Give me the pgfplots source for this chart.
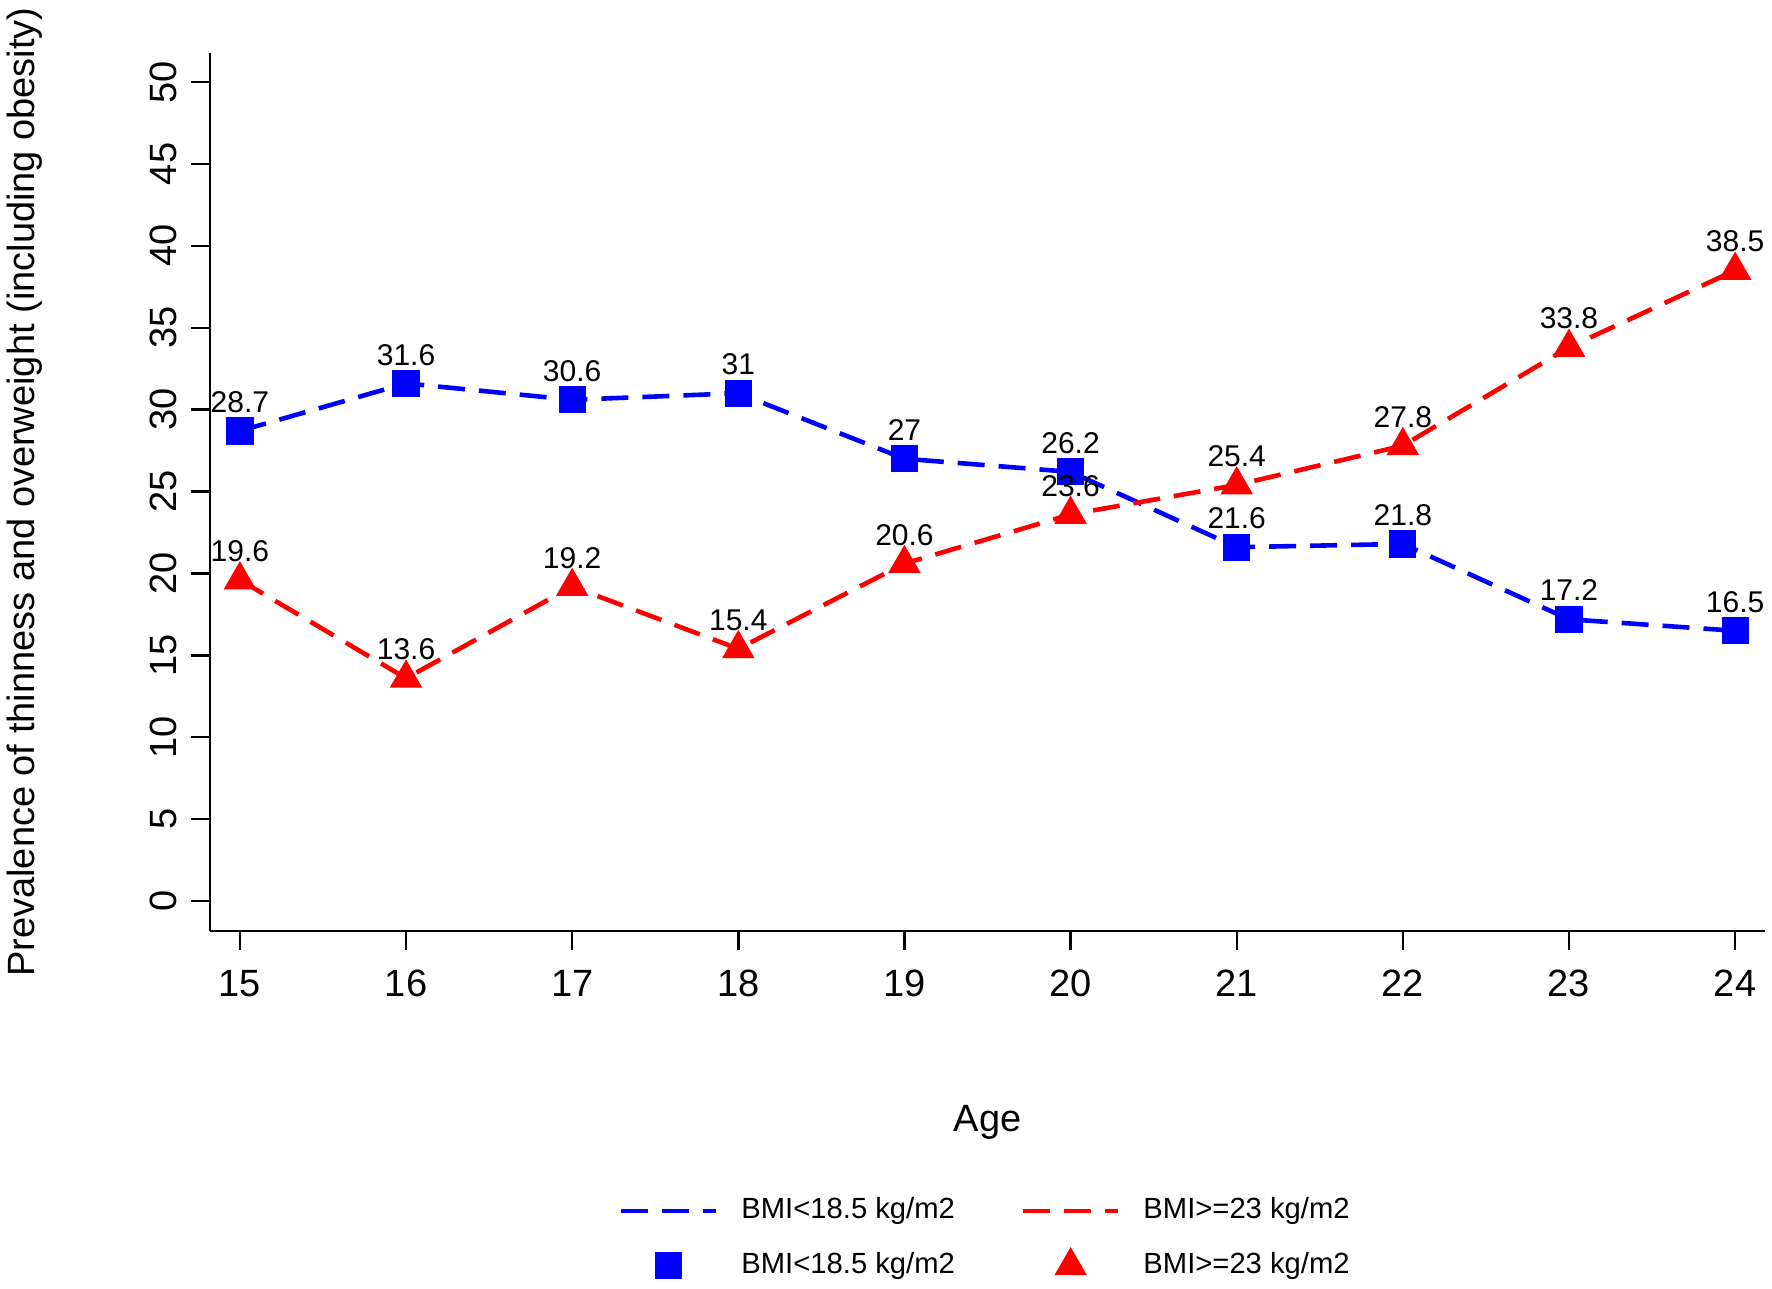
\documentclass[border=0pt]{standalone}
\usepackage{fontspec}
\setmainfont{Liberation Sans}
\usepackage{pgfplots}
\pgfplotsset{compat=1.18}
\pgfplotsset{
  lineleg/.style={legend image code/.code={\draw[##1] (0pt,0pt) -- (23.75pt,0pt);}},
  markleg/.style={legend image code/.code={\draw[##1] plot coordinates {(11.875pt,0pt)};}},
}
\pgfplotstableread{
x y
15 28.7
16 31.6
17 30.6
18 31
19 27
20 26.2
21 21.6
22 21.8
23 17.2
24 16.5
}\thin
\pgfplotstableread{
x y
15 19.6
16 13.6
17 19.2
18 15.4
19 20.6
20 23.6
21 25.4
22 27.8
23 33.8
24 38.5
}\over
\begin{document}
\begin{tikzpicture}
\path[use as bounding box] (-52.5pt,-89.25pt) rectangle (390.5pt,232.75pt);
\begin{axis}[
  at={(0pt,0pt)}, anchor=south west,
  scale only axis, width=388.75pt, height=219.5pt,
  xmin=14.82, xmax=24.18, ymin=-1.83, ymax=51.77,
  axis x line*=bottom, axis y line*=left,
  axis line style={line width=0.6pt, -},
  xtick={15,...,24}, ytick={0,5,...,50},
  tick align=outside, major tick length=4.75pt,
  tick style={line width=0.6pt, black},
  /pgf/number format/assume math mode=true,
  ticklabel style={font=\fontsize{9.5}{11}\selectfont},
  xticklabel style={yshift=-1.5pt},
  yticklabel style={rotate=90, anchor=south},
  xlabel={Age},
  ylabel={Prevalence of thinness and overweight (including obesity)},
  xlabel style={at={(axis description cs:0.5,-0.2283)}, anchor=base, font=\fontsize{9.5}{11}\selectfont},
  ylabel style={at={(axis description cs:-0.119,0.5)}, anchor=center, font=\fontsize{9.5}{11}\selectfont},
  legend columns=2,
  legend cell align=left,
  legend style={at={(axis description cs:0.2624,-0.3501)}, anchor=west, draw=none, fill=none, inner sep=0pt,
    font=\fontsize{7.3}{8.8}\selectfont, column sep=5.75pt, row sep=6pt,
    /tikz/every even column/.append style={column sep=16.5pt}, nodes={inner sep=0pt}},
  clip=false,
]
\addplot[blue, line width=1.15pt, dash pattern=on 6.75pt off 3.5pt, mark=none, lineleg] table[x=x,y=y] {\thin};
\addlegendentry{BMI<18.5 kg/m2}
\addplot[red, line width=1.15pt, dash pattern=on 6.75pt off 3.5pt, mark=none, lineleg] table[x=x,y=y] {\over};
\addlegendentry{BMI>=23 kg/m2}
\addplot[blue, only marks, mark=square*, mark size=3.2pt, mark options={solid, fill=blue}, markleg] table[x=x,y=y] {\thin};
\addlegendentry{BMI<18.5 kg/m2}
\addplot[red, only marks, mark=triangle*, mark size=4.3pt, mark options={solid, fill=red}, markleg] table[x=x,y=y] {\over};
\addlegendentry{BMI>=23 kg/m2}
\addplot[draw=none, mark=none, forget plot, point meta=explicit symbolic, nodes near coords,
  nodes near coords style={font=\fontsize{7.5}{9}\selectfont, anchor=base, yshift=4.6pt, inner sep=0pt, text=black}]
  table[x=x,y=y,meta=y] {\thin};
\addplot[draw=none, mark=none, forget plot, point meta=explicit symbolic, nodes near coords,
  nodes near coords style={font=\fontsize{7.5}{9}\selectfont, anchor=base, yshift=4.6pt, inner sep=0pt, text=black}]
  table[x=x,y=y,meta=y] {\over};
\end{axis}
\end{tikzpicture}
\end{document}
